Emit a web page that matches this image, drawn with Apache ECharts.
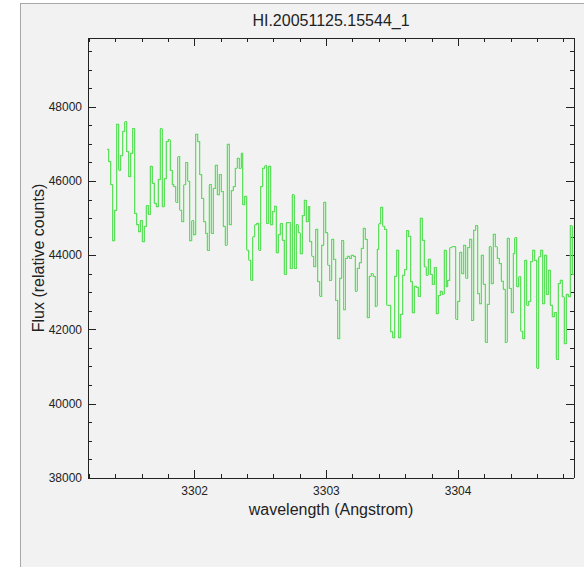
<!DOCTYPE html>
<html>
<head>
<meta charset="utf-8">
<script src="https://cdn.jsdelivr.net/npm/echarts@6/dist/echarts.min.js"></script>
<style>
  html, body { margin: 0; padding: 0; background: #ffffff; overflow: hidden; }
  #frame {
    position: absolute; left: 20px; top: 3px; width: 600px; height: 600px;
    background: #f2f2f2; border-left: 1px solid #a8a8a8; border-top: 1px solid #a8a8a8;
  }
  #chart { position: absolute; left: 0; top: 0; width: 584px; height: 567px; }
  /* pixel-snapped strokes so the histogram steps stay sharp */
  #chart svg path { shape-rendering: crispEdges; }
</style>
</head>
<body>
<div id="frame"></div>
<div id="chart"></div>
<script>
// Spectrum identifier
const specName = 'HI.20051125.15544_1';

// Linear dispersion of the extracted order (Angstrom)
const crval1 = 3301.334;    // wavelength of the first pixel's blue edge
const cdelt1 = 0.014966;    // Angstrom per pixel

// Flux per pixel (relative counts)
const fluxBlue = [
  46865, 46530, 45900, 44390, 45220, 47540, 46300, 46690, 47340, 47600,
  46800, 46125, 46760, 47410, 45130, 44820, 44640, 44930, 44370, 44780,
  45340, 45110, 46400, 45950, 45410, 45310, 46050, 47410, 45310, 46060,
  47070, 47120, 46300, 45900, 45850, 45430, 46660, 45220, 44910, 45900,
  46500, 46000, 44390, 44930, 44550, 47270, 47070, 46180, 45540, 44910,
  44600, 44140, 45900, 44600, 45810, 46430, 45630, 46180, 45720, 44780,
  44280, 47000, 44820, 45740, 45850, 46350, 46620, 46350, 46760, 45360,
  45590, 44140, 43870, 43330, 44500, 44820, 44860, 44140, 45850
];
const fluxMid = [
  46350, 46410, 44860, 46400, 44820, 45180, 45330, 44070, 44550, 44850,
  44410, 43490, 44880, 44880, 43650, 45630, 43650, 44820, 44610, 44040,
  45070, 45480, 44910, 45310, 44370, 43980, 43690, 44700, 43290, 42900,
  44280, 45430, 44610, 43740, 43330, 44430, 43890, 42790, 41760, 43380,
  44400, 42540, 43920, 43980, 43920, 44010, 43980, 43040, 43650, 43800,
  44190, 44730, 44430, 42320, 43440, 43510, 43440, 42630, 44160, 44850,
  45300, 44790, 44700, 42660, 42660, 41940, 41780, 43440, 44140, 41780,
  42410, 43470, 43620, 44660, 44520, 43290, 42450, 43170, 43140, 42900,
  45000
];
const fluxRed = [
  44410, 43690, 43470, 43900, 43490, 43220, 43670, 42430, 42910, 43030,
  42950, 44140, 43150, 43330, 44210, 44230, 44230, 42280, 42760, 44080,
  43510, 44280, 43390, 44210, 44440, 42250, 44680, 44800, 42970, 42700,
  44010, 43220, 41660, 42680, 44230, 43240, 44570, 44230, 43920, 43780,
  43310, 43090, 41660, 44460, 43110, 42460, 44050, 44480, 43150, 43420,
  41960, 41760, 43870, 42660, 42760, 43830, 44140, 43870, 40960, 43960,
  44140, 42700, 44010, 42950, 43600, 42660, 42340, 42460, 41200, 43240,
  43330, 42880, 41620, 42950, 42880, 44800, 43490
];

// Axis ranges and tick spacing
const xRange = [3301.19, 3304.88];
const yRange = [38000, 49860];
const yStep = 2000;

const flux = fluxBlue.concat(fluxMid, fluxRed);

// Histogram-style trace: each pixel is a flat segment between its two edges
const spectrum = [];
flux.forEach((f, i) => {
  spectrum.push([crval1 + i * cdelt1, f]);
  spectrum.push([crval1 + (i + 1) * cdelt1, f]);
});

const ink = '#222222';
const font = 'Liberation Sans, Arial, Helvetica, sans-serif';
const plain = v => String(v);

function frameAxis(extra) {
  return Object.assign({
    type: 'value',
    axisLine: { show: true, onZero: false, lineStyle: { color: ink, width: 1 } },
    axisTick: { show: true, inside: true, length: 8, lineStyle: { color: ink } },
    splitLine: { show: false },
    minorSplitLine: { show: false }
  }, extra);
}

// Same trace drawn twice: a soft wide stroke under a sharp 1px one
function trace(color, width) {
  return {
    type: 'line',
    data: spectrum,
    showSymbol: false,
    symbol: 'none',
    clip: true,
    lineStyle: { color: color, width: width },
    silent: true
  };
}

const chart = echarts.init(document.getElementById('chart'), null, { renderer: 'svg' });
chart.setOption({
  animation: false,
  backgroundColor: 'transparent',
  title: {
    text: specName,
    left: 331,
    top: 12,
    padding: 0,
    textAlign: 'center',
    textStyle: { fontFamily: font, fontSize: 16, fontWeight: 'normal', color: ink }
  },
  grid: { left: 88, top: 38, width: 486, height: 440, containLabel: false },
  xAxis: [
    frameAxis({
      position: 'bottom', min: xRange[0], max: xRange[1],
      minorTick: { show: true, splitNumber: 5, length: 4, lineStyle: { color: ink } },
      axisLabel: { show: true, showMinLabel: false, showMaxLabel: false, margin: 7,
        formatter: plain, color: ink, fontFamily: font, fontSize: 12 },
      name: 'wavelength (Angstrom)', nameLocation: 'middle', nameGap: 23,
      nameMoveOverlap: false,
      nameTextStyle: { fontFamily: font, fontSize: 16, color: ink }
    }),
    frameAxis({
      position: 'top', min: xRange[0], max: xRange[1],
      minorTick: { show: true, splitNumber: 5, length: 4, lineStyle: { color: ink } },
      axisLabel: { show: false }
    })
  ],
  yAxis: [
    frameAxis({
      position: 'left', min: yRange[0], max: yRange[1], interval: yStep,
      minorTick: { show: true, splitNumber: 4, length: 4, lineStyle: { color: ink } },
      axisLabel: { show: true, showMaxLabel: false, margin: 6,
        formatter: plain, color: ink, fontFamily: font, fontSize: 12 },
      name: 'Flux (relative counts)', nameLocation: 'middle', nameGap: 42,
      nameMoveOverlap: false,
      nameTextStyle: { fontFamily: font, fontSize: 16, color: ink }
    }),
    frameAxis({
      position: 'right', min: yRange[0], max: yRange[1], interval: yStep,
      minorTick: { show: true, splitNumber: 4, length: 4, lineStyle: { color: ink } },
      axisLabel: { show: false }
    })
  ],
  series: [
    trace('rgba(140, 232, 140, 0.4)', 2),
    trace('#5ee05e', 1)
  ]
});
</script>
</body>
</html>
